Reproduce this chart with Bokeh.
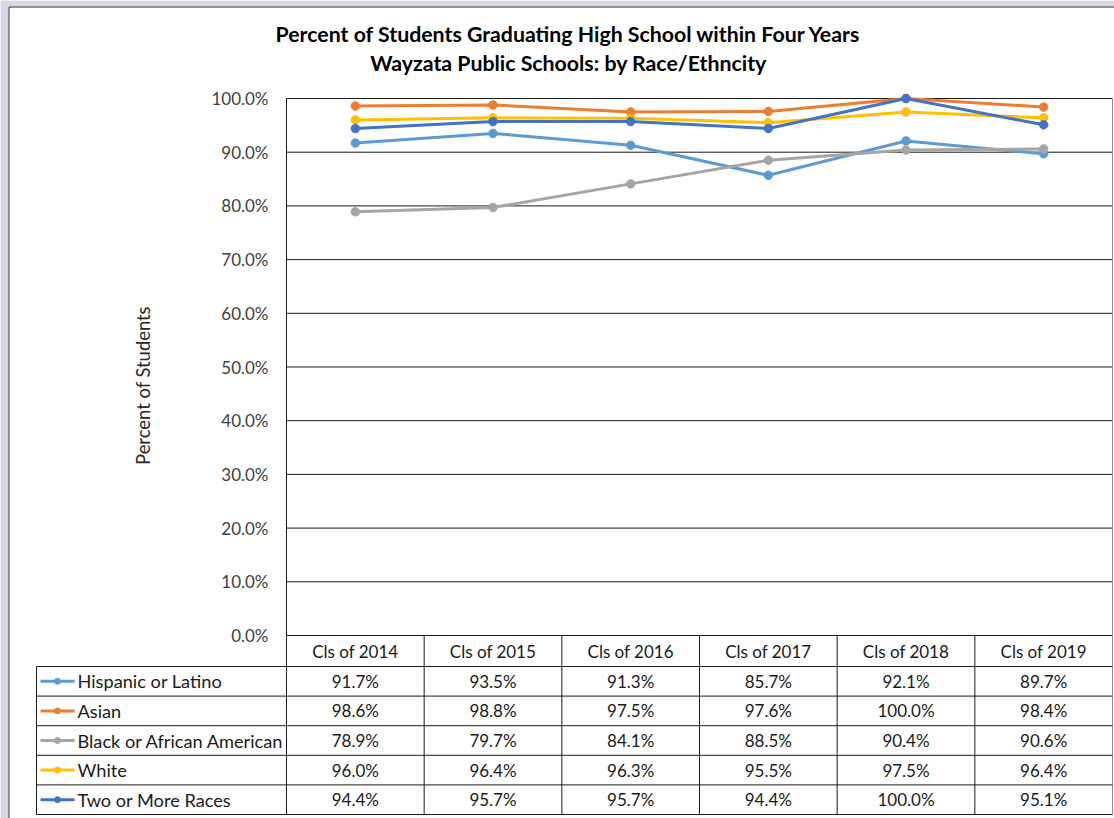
import math
from bokeh.plotting import figure
from bokeh.models import Range1d
from bokeh.embed import file_html
from bokeh.resources import INLINE
from bokeh.core.properties import value

# ---------------- data ----------------
categories = ["Cls of 2014", "Cls of 2015", "Cls of 2016", "Cls of 2017", "Cls of 2018", "Cls of 2019"]
series_names = ["Hispanic or Latino", "Asian", "Black or African American", "White", "Two or More Races"]
hispanic = [91.7, 93.5, 91.3, 85.7, 92.1, 89.7]
asian = [98.6, 98.8, 97.5, 97.6, 100.0, 98.4]
black = [78.9, 79.7, 84.1, 88.5, 90.4, 90.6]
white = [96.0, 96.4, 96.3, 95.5, 97.5, 96.4]
two_more = [94.4, 95.7, 95.7, 94.4, 100.0, 95.1]
series_colors = ["#5B9BD5", "#ED7D31", "#A5A5A5", "#FFC000", "#4472C4"]
y_ticks = [0, 10, 20, 30, 40, 50, 60, 70, 80, 90, 100]
title_line1 = "Percent of Students Graduating High School within Four Years"
title_line2 = "Wayzata Public Schools: by Race/Ethncity"
y_title = "Percent of Students"

series_values = [hispanic, asian, black, white, two_more]

# ---------------- layout constants (pixels) ----------------
W, H = 1114, 818
X0 = 286            # left edge of plot area
X1 = 1112           # right edge of plot area
Y0 = 635            # y pixel of 0 %
Y100 = 98           # y pixel of 100 %
TABLE_TOP = 666     # top of first data row
ROW_H = 29.6
LEG_LEFT = 36

FONT = "Lato"
LINE = "#1a1a1a"
TXT = "#1a1a1a"
LAV = "#d9d4ea"

ncat = len(categories)
nrow = len(series_names)
UX = (X1 - X0) / ncat           # px per category
UY = (Y0 - Y100) / 100.0        # px per percentage point


def xd(px):
    return (px - X0) / UX


def yd(py):
    return (Y0 - py) / UY


def rd(py):
    return (py - TABLE_TOP) / ROW_H


p = figure(width=W, height=H, x_range=Range1d(xd(0), xd(W)), y_range=Range1d(yd(H), yd(0)),
           output_backend="svg", toolbar_location=None, x_axis_location=None, y_axis_location=None,
           min_border_left=0, min_border_right=0, min_border_top=0, min_border_bottom=0)
p.extra_y_ranges = {"rows": Range1d(rd(H), rd(0))}
p.title.visible = False
p.outline_line_color = None
p.xgrid.grid_line_color = None
p.ygrid.grid_line_color = None
p.background_fill_color = "white"
p.border_fill_color = "white"

# lavender page frame
p.quad(left=[xd(0), xd(0)], right=[xd(8), xd(W)], bottom=[yd(H), yd(6)], top=[yd(0), yd(0)],
       fill_color=LAV, line_color=None)
p.segment(x0=[xd(8.5), xd(8.5)], y0=[yd(6.5), yd(6.5)], x1=[xd(8.5), xd(W)], y1=[yd(H), yd(6.5)],
          line_color="#2e2e2e", line_width=1)

# horizontal gridlines
p.segment(x0=[0] * len(y_ticks), y0=y_ticks, x1=[ncat] * len(y_ticks), y1=y_ticks, line_color=LINE, line_width=1)
# plot area left / right borders
p.segment(x0=[0], y0=[0], x1=[0], y1=[100], line_color=LINE, line_width=1)
p.segment(x0=[ncat], y0=[0], x1=[ncat], y1=[100], line_color="#8c8c8c", line_width=1)

# y tick labels
p.text(x=[0] * len(y_ticks), y=y_ticks, text=["%.1f%%" % t for t in y_ticks], x_offset=-18,
       text_align="right", text_baseline="middle", text_font=value(FONT), text_font_size="17px",
       text_color="#404040")
# y axis title
p.text(x=[xd(142)], y=[yd(385)], text=[y_title], angle=math.pi / 2, text_align="center",
       text_baseline="middle", text_font=value(FONT), text_font_size="18.4px", text_color="#262626")
# chart titles
p.text(x=[xd(568), xd(568)], y=[yd(33), yd(62)], text=[title_line1, title_line2], text_align="center",
       text_baseline="middle", text_font=value(FONT), text_font_size="21.3px", text_font_style="bold",
       text_color="#000000")

# series
cat_x = [i + 0.5 for i in range(ncat)]
for vals, col in zip(series_values, series_colors):
    p.line(x=cat_x, y=vals, line_color=col, line_width=3)
    p.scatter(x=cat_x, y=vals, size=8.5, fill_color=col, line_color=col)

# ---------------- data table ----------------
hdr_top = rd(Y0)
# vertical lines
p.segment(x0=list(range(0, ncat)), y0=[hdr_top] * ncat, x1=list(range(0, ncat)), y1=[nrow] * ncat,
          line_color=LINE, line_width=1, y_range_name="rows")
p.segment(x0=[ncat], y0=[hdr_top], x1=[ncat], y1=[nrow], line_color="#8c8c8c", line_width=1, y_range_name="rows")
p.segment(x0=[xd(LEG_LEFT)], y0=[0], x1=[xd(LEG_LEFT)], y1=[nrow], line_color=LINE, line_width=1,
          y_range_name="rows")
# horizontal lines
p.segment(x0=[xd(LEG_LEFT)] * (nrow + 1), y0=list(range(0, nrow + 1)), x1=[ncat] * (nrow + 1),
          y1=list(range(0, nrow + 1)), line_color=LINE, line_width=1, y_range_name="rows")

# header
p.text(x=cat_x, y=[hdr_top / 2] * ncat, text=categories, text_align="center", text_baseline="middle",
       text_font=value(FONT), text_font_size="17px", text_color=TXT, y_range_name="rows")

cx, cy, ct = [], [], []
for r, vals in enumerate(series_values):
    for c, v in enumerate(vals):
        cx.append(c + 0.5)
        cy.append(r + 0.5)
        ct.append("%.1f%%" % v)
p.text(x=cx, y=cy, text=ct, text_align="center", text_baseline="middle",
       text_font=value(FONT), text_font_size="17px", text_color=TXT, y_range_name="rows")

rows = [r + 0.5 for r in range(nrow)]
p.segment(x0=[xd(40)] * nrow, y0=rows, x1=[xd(74)] * nrow, y1=rows,
          line_color=series_colors, line_width=3, y_range_name="rows")
p.scatter(x=[xd(57)] * nrow, y=rows, size=6, fill_color=series_colors, line_color=series_colors,
          y_range_name="rows")
p.text(x=[xd(77)] * nrow, y=rows, text=series_names, text_align="left", text_baseline="middle",
       text_font=value(FONT), text_font_size="18.2px", text_color=TXT, y_range_name="rows")

open("out.html", "w").write(file_html(p, INLINE))
